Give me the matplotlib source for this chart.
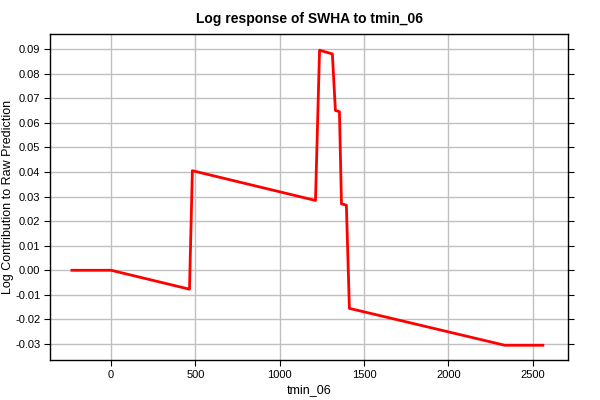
import matplotlib
matplotlib.use("Agg")
import matplotlib.pyplot as plt

plt.rcParams['font.family'] = ['Liberation Sans', 'DejaVu Sans']

tmin_06 = [-232, 0, 465, 482, 1212, 1236, 1312, 1330, 1354, 1366, 1395, 1413, 2334, 2560]
contribution = [0.0, 0.0, -0.0077, 0.0405, 0.0284, 0.0895, 0.0880, 0.0650, 0.0645, 0.0270, 0.0265, -0.0155, -0.0305, -0.0305]

xticks = [0, 500, 1000, 1500, 2000, 2500]
yticks = [-0.03, -0.02, -0.01, 0.00, 0.01, 0.02, 0.03, 0.04, 0.05, 0.06, 0.07, 0.08, 0.09]

fig = plt.figure(figsize=(6, 4), dpi=100)
ax = fig.add_axes([50/600, 40/400, 518/600, 326/400])
ax.plot(tmin_06, contribution, color='red', linewidth=2)
ax.set_xlim(-362, 2709)
ax.set_ylim(-0.0365, 0.0961)
ax.set_xticks(xticks)
ax.set_yticks(yticks)
ax.set_yticklabels([f"{v:.2f}" for v in yticks])
ax.grid(True, color='#c0c0c0', linewidth=1)
ax.set_axisbelow(True)
ax.tick_params(direction='out', length=4, labelsize=8, pad=3, top=False, right=True, color='black')
for s in ax.spines.values():
    s.set_color('black')
    s.set_linewidth(1)
ax.set_title("Log response of SWHA to tmin_06", fontsize=10, fontweight='bold', pad=8)
ax.set_xlabel("tmin_06", fontsize=9, labelpad=3)
ax.set_ylabel("Log Contribution to Raw Prediction", fontsize=9)
ax.yaxis.set_label_coords(-0.0695, 0.5)
fig.savefig("out.png", dpi=100)
